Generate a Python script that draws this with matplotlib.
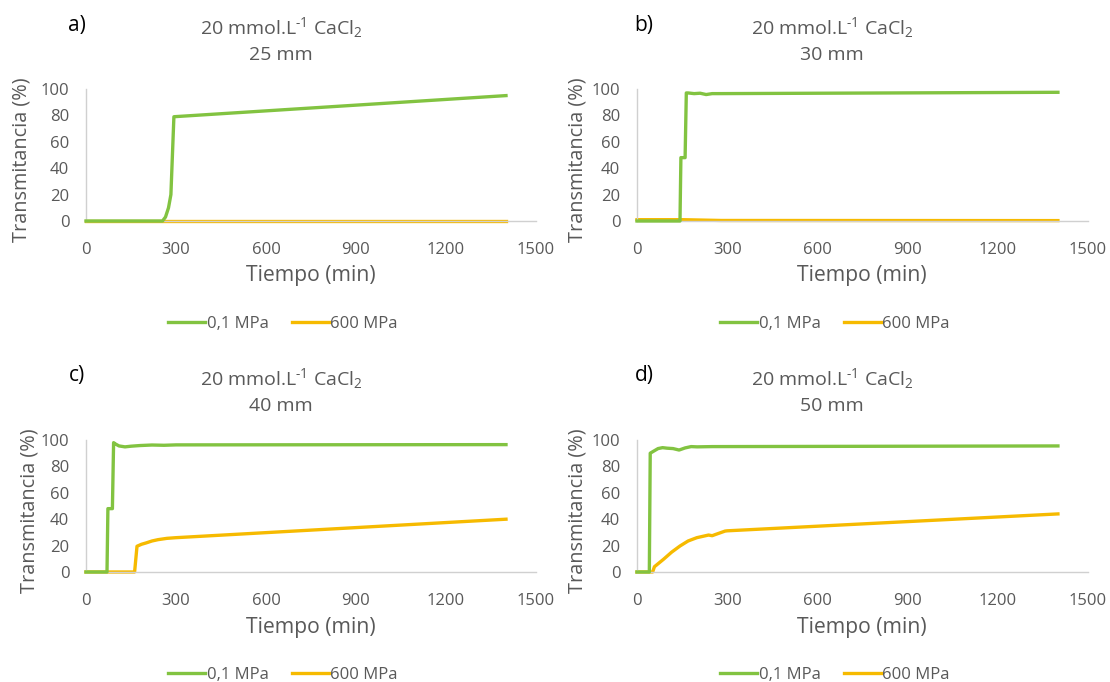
import matplotlib
matplotlib.use("Agg")
import matplotlib.pyplot as plt
from matplotlib.lines import Line2D

plt.rcParams['font.family'] = ['Open Sans', 'DejaVu Sans']
plt.rcParams['mathtext.fontset'] = 'custom'
plt.rcParams['mathtext.rm'] = 'Open Sans'
plt.rcParams['mathtext.it'] = 'Open Sans'

# ---- data: time (min) vs transmittance (%) ----
# a) 25 mm
a_t_low = [0, 255, 265, 275, 283, 293, 1400]
a_y_low = [0, 0, 3, 10, 20, 79, 95]
a_t_high = [0, 1400]
a_y_high = [0.3, 0.3]

# b) 30 mm
b_t_low = [0, 143, 146, 160, 164, 170, 190, 210, 230, 250, 270, 1400]
b_y_low = [0, 0, 48, 48, 97, 97, 96.5, 96.8, 95.8, 96.5, 96.5, 97.5]
b_t_high = [0, 150, 280, 1400]
b_y_high = [1.0, 1.0, 0.4, 0.3]

# c) 40 mm
c_t_low = [0, 70, 73, 88, 92, 98, 110, 130, 150, 180, 220, 260, 300, 1400]
c_y_low = [0, 0, 48, 48, 98, 97, 95.5, 94.8, 95.3, 95.8, 96.2, 96.0, 96.3, 96.5]
c_t_high = [0, 162, 170, 185, 200, 220, 240, 270, 300, 1400]
c_y_high = [0, 0, 19.5, 21, 22, 23.5, 24.5, 25.5, 26, 40]

# d) 50 mm
d_t_low = [0, 41, 44, 55, 70, 85, 100, 120, 140, 160, 180, 200, 250, 1400]
d_y_low = [0, 0, 90, 91.5, 93.5, 94.2, 93.8, 93.5, 92.4, 94, 95, 94.8, 95, 95.5]
d_t_high = [0, 52, 58, 88, 115, 143, 170, 199, 238, 250, 262, 293, 300, 1400]
d_y_high = [0, 0, 4, 9.6, 15, 19.7, 23.5, 26, 28, 27.5, 28.5, 31, 31.2, 44]

panels = [
    ("a)", "25 mm", a_t_low, a_y_low, a_t_high, a_y_high),
    ("b)", "30 mm", b_t_low, b_y_low, b_t_high, b_y_high),
    ("c)", "40 mm", c_t_low, c_y_low, c_t_high, c_y_high),
    ("d)", "50 mm", d_t_low, d_y_low, d_t_high, d_y_high),
]

x_ticks = [0, 300, 600, 900, 1200, 1500]
y_ticks = [0, 20, 40, 60, 80, 100]
series_names = ["0,1 MPa", "600 MPa"]

GREEN = "#82C341"
GOLD = "#F6BA00"
GRAY = "#595959"
AXIS = "#D0D0D0"

W, H = 1110, 682
fig = plt.figure(figsize=(W / 100, H / 100), dpi=100)


def fx(px):
    return px / W


def fy(py):
    return 1 - py / H


# pixel layout of each panel: axes box, then horizontal anchors of the labels
layout = [
    dict(l=86, r=536, t=89, b=221, tag=77, title=281, ylab=22, xlab=311, leg=283),
    dict(l=637, r=1088, t=89, b=221, tag=644, title=832, ylab=577, xlab=862, leg=835),
    dict(l=86, r=536, t=440, b=572, tag=77, title=281, ylab=30, xlab=311, leg=283),
    dict(l=637, r=1088, t=440, b=572, tag=644, title=832, ylab=577, xlab=862, leg=835),
]

for (tag, size, tl, yl, th, yh), L in zip(panels, layout):
    ax = fig.add_axes([fx(L['l']), fy(L['b']), fx(L['r'] - L['l']), (L['b'] - L['t']) / H])
    ax.plot(tl, yl, color=GREEN, lw=2.4, solid_joinstyle='round', zorder=3, clip_on=False)
    ax.plot(th, yh, color=GOLD, lw=2.4, solid_joinstyle='round', zorder=2, clip_on=False)
    ax.set_xlim(0, 1500)
    ax.set_ylim(0, 100)
    ax.set_xticks(x_ticks)
    ax.set_yticks(y_ticks)
    ax.tick_params(length=0, labelsize=12, colors=GRAY)
    ax.tick_params(axis='x', pad=15)
    ax.tick_params(axis='y', pad=12)
    for s in ('top', 'right'):
        ax.spines[s].set_visible(False)
    for s in ('left', 'bottom'):
        ax.spines[s].set_color(AXIS)
        ax.spines[s].set_linewidth(1.0)
    ax.set_facecolor('none')

    dy = L['t'] - 89
    fig.text(fx(L['tag']), fy(25 + dy), tag, fontsize=15, color='black',
             ha='center', va='center')
    fig.text(fx(L['title']), fy(28 + dy), r"20 mmol.L$^{\text{-1}}$ CaCl$_{\mathrm{2}}$",
             fontsize=14, color=GRAY, ha='center', va='center')
    fig.text(fx(L['title']), fy(55 + dy), size, fontsize=14, color=GRAY,
             ha='center', va='center')
    fig.text(fx(L['ylab']), fy((L['t'] + L['b']) / 2 + 5), "Transmitancia (%)", fontsize=14.3,
             color=GRAY, rotation=90, ha='center', va='center')
    fig.text(fx(L['xlab']), fy(276 + dy), "Tiempo (min)", fontsize=15.2, color=GRAY,
             ha='center', va='center')

    handles = [Line2D([], [], color=GREEN, lw=2.4), Line2D([], [], color=GOLD, lw=2.4)]
    fig.legend(handles, series_names, loc='center', ncol=2, frameon=False,
               bbox_to_anchor=(fx(L['leg']), fy(324 + dy)), fontsize=12,
               labelcolor=GRAY, handlelength=2.2, handletextpad=0.1, columnspacing=1.4)

fig.savefig("out.png", dpi=100, facecolor='white')
